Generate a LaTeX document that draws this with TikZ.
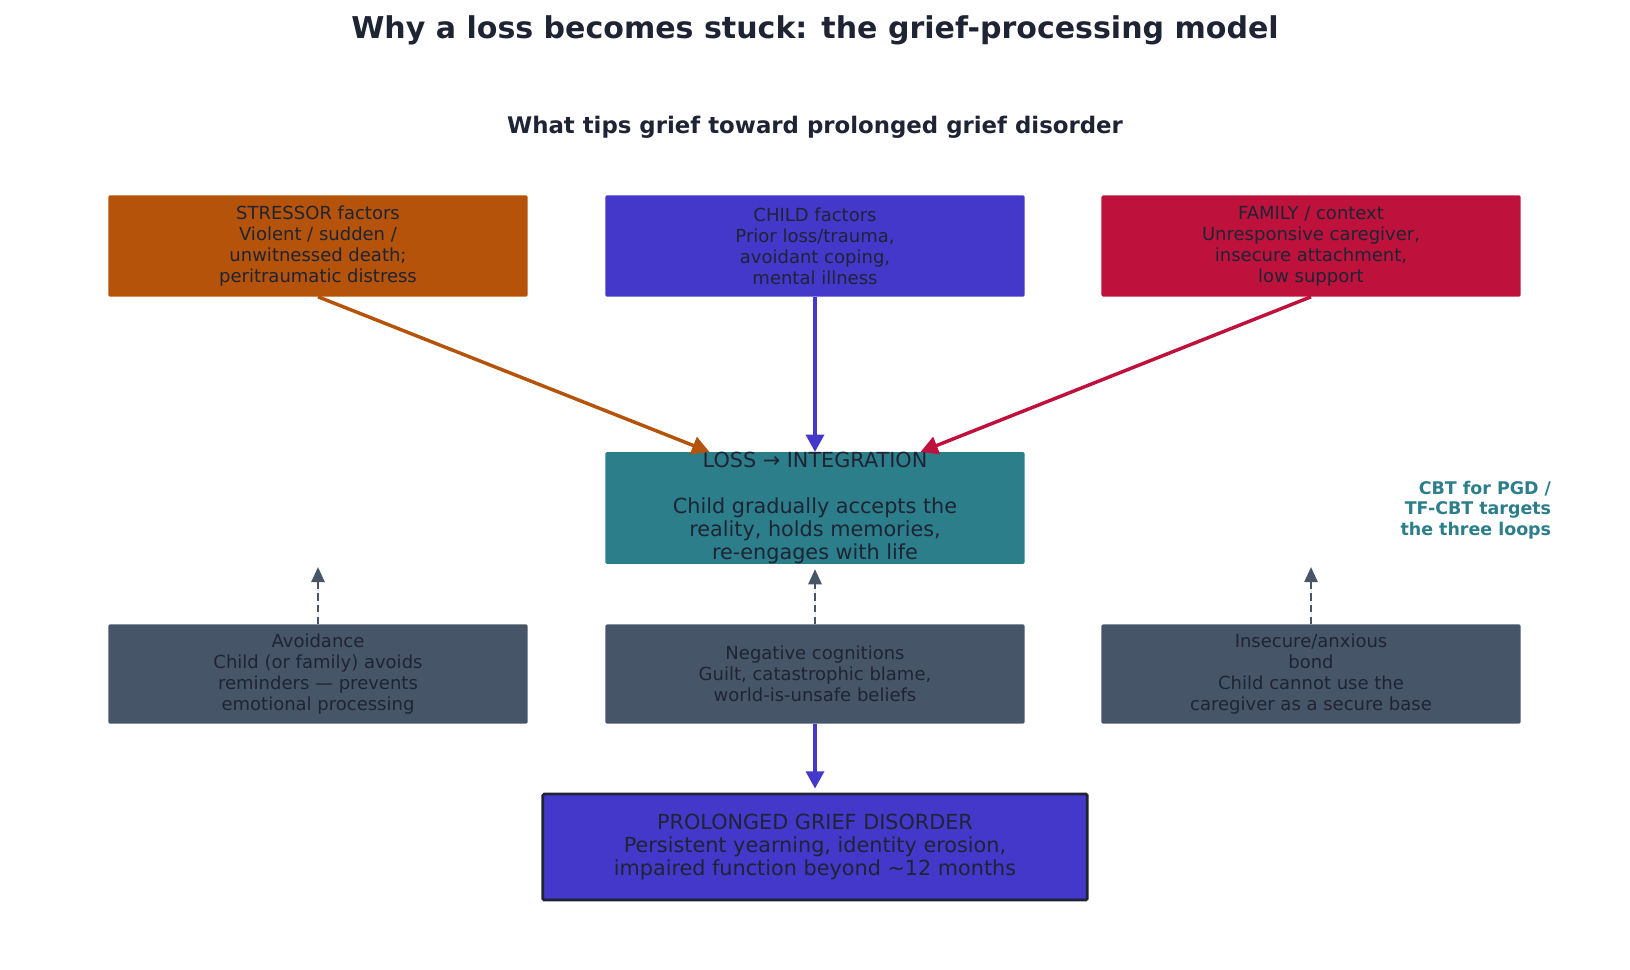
\documentclass[tikz,border=0pt]{standalone}
\usepackage{fontspec}
\setmainfont{DejaVu Sans}
\usepackage{xcolor}
\usetikzlibrary{arrows.meta}

\definecolor{ink}{HTML}{1E2433}
\definecolor{stress}{HTML}{B45309}
\definecolor{childc}{HTML}{4338CA}
\definecolor{family}{HTML}{BE123C}
\definecolor{teal}{HTML}{2B7E8A}
\definecolor{slate}{HTML}{475569}

\begin{document}
\begin{tikzpicture}[x=0.01in, y=-0.01in,
      factor/.style={rounded corners=1pt, minimum width=4.19in, minimum height=1.01in,
                     inner sep=0pt, align=center, text=ink, font=\fontsize{13}{15.2}\selectfont},
      trap/.style={factor, fill=slate, minimum height=0.99in},
      big/.style={rounded corners=1pt, inner sep=0pt, align=center, text=ink,
                  font=\fontsize{15}{16.6}\selectfont},
      arr/.style={-{Triangle[length=12.5pt, width=13pt]}, line width=2.5pt},
      back/.style={-{Triangle[length=11pt, width=9.5pt]}, dash pattern=on 5.5pt off 3pt,
                   line width=1.9pt, draw=slate, fill=slate}
    ]
      \useasboundingbox (0,0) rectangle (1630,970);

      \node[font=\bfseries\fontsize{21.7}{26}\selectfont, text=ink] (title) at (815,30)
        {Why a loss becomes stuck: the grief-processing model};
      \node[font=\bfseries\fontsize{16.5}{20}\selectfont, text=ink] (sub) at (815,127)
        {What tips grief toward prolonged grief disorder};

      % risk factors
      \node[factor, fill=stress] (stressor) at (318,246) {STRESSOR factors\\Violent / sudden /\\unwitnessed death;\\peritraumatic distress};
      \node[factor, fill=childc] (child) at (815,246) {CHILD factors\\Prior loss/trauma,\\avoidant coping,\\mental illness};
      \node[factor, fill=family] (family) at (1311,246) {FAMILY / context\\Unresponsive caregiver,\\insecure attachment,\\low support};

      \node[big, fill=teal, minimum width=4.19in, minimum height=1.09in] (loss) at (815,508)
        {LOSS → INTEGRATION\\\mbox{}\\Child gradually accepts the\\reality, holds memories,\\re-engages with life};

      \node[anchor=east, align=right, text=teal, font=\bfseries\fontsize{12.6}{14.7}\selectfont] (cbt) at (1556,510)
        {CBT for PGD /\\TF-CBT targets\\the three loops};

      % the three loops
      \node[trap] (avoid) at (318,674) {Avoidance\\Child (or family) avoids\\reminders — prevents\\emotional processing};
      \node[trap] (neg) at (815,674) {Negative cognitions\\Guilt, catastrophic blame,\\world-is-unsafe beliefs};
      \node[trap] (bond) at (1311,674) {Insecure/anxious\\bond\\Child cannot use the\\caregiver as a secure base};

      \node[big, fill=childc, draw=ink, line width=2pt, minimum width=5.44in, minimum height=1.06in] (pgd) at (815,847)
        {PROLONGED GRIEF DISORDER\\Persistent yearning, identity erosion,\\impaired function beyond \textasciitilde12 months};

      \coordinate (avoidup) at (318,567);
      \coordinate (bondup) at (1311,567);

      \draw[arr, draw=stress, fill=stress] (stressor.south) -- (loss.152);
      \draw[arr, draw=childc, fill=childc] (child.south) -- (loss.north);
      \draw[arr, draw=family, fill=family] (family.south) -- (loss.28);

      \draw[back] (avoid.north) -- (avoidup);
      \draw[back, shorten >=0.05in] (neg.north) -- (loss.south);
      \draw[back] (bond.north) -- (bondup);

      \draw[arr, draw=childc, fill=childc, shorten >=0.04in] (neg.south) -- (pgd.north);
    \end{tikzpicture}
\end{document}
